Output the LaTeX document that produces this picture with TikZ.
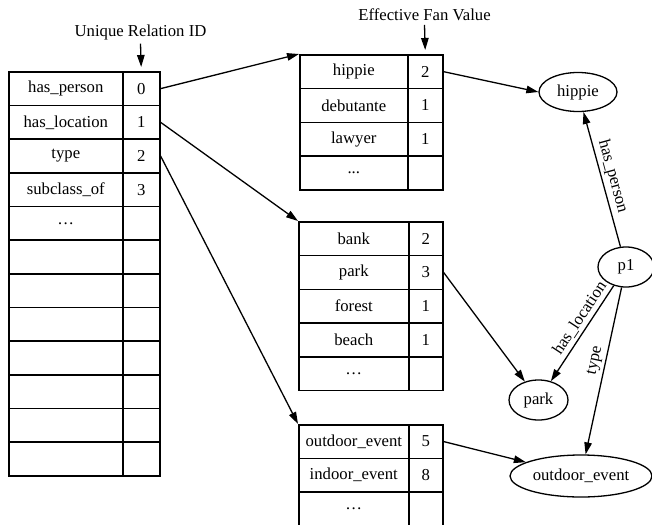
\documentclass[tikz,border=0pt]{standalone}
\usepackage{fontspec}
\setmainfont{Liberation Serif}
\usetikzlibrary{shapes.geometric,arrows.meta}
\newcommand\threedots{...}
\begin{document}
\begin{tikzpicture}[x=1pt,y=-1pt,
  font=\fontsize{16.7pt}{20pt}\selectfont,
  line width=1.3pt,
  tip/.style={-{Triangle[length=12pt,width=7.5pt]}},
  cell/.style={draw, rectangle, anchor=north west, inner sep=0pt, line width=1.6pt},
  ent/.style={draw, ellipse, inner sep=0pt, line width=1.3pt},
  elabel/.style={sloped, above, inner sep=3pt}
]
\useasboundingbox (0,0) rectangle (652,524);

% relation table
\foreach [count=\i from 0] \n/\v in {has\_person/0, has\_location/1, type/2, subclass\_of/3, \dots/{}, {}/{}, {}/{}, {}/{}, {}/{}, {}/{}, {}/{}, {}/{}} {
  \node[cell, minimum width=114pt, minimum height=33.67pt] (L\i-n) at (8, 71+\i*33.67) {\n};
  \node[cell, minimum width=37pt, minimum height=33.67pt] (L\i-v) at (122, 71+\i*33.67) {\v};
}

% has_person table
\foreach [count=\i from 0] \n/\v in {hippie/2, debutante/1, lawyer/1, \threedots/{}} {
  \node[cell, minimum width=108pt, minimum height=33.75pt] (T\i-n) at (299, 54+\i*33.75) {\n};
  \node[cell, minimum width=35pt, minimum height=33.75pt] (T\i-v) at (407, 54+\i*33.75) {\v};
}

% has_location table
\foreach [count=\i from 0] \n/\v in {bank/2, park/3, forest/1, beach/1, \dots/{}} {
  \node[cell, minimum width=110pt, minimum height=33.75pt] (M\i-n) at (298, 221+\i*33.75) {\n};
  \node[cell, minimum width=34pt, minimum height=33.75pt] (M\i-v) at (408, 221+\i*33.75) {\v};
}

% type table
\foreach [count=\i from 0] \n/\v in {outdoor\_event/5, indoor\_event/8, \dots/{}} {
  \node[cell, minimum width=110pt, minimum height=33.5pt] (B\i-n) at (298, 424+\i*33.5) {\n};
  \node[cell, minimum width=34pt, minimum height=33.5pt] (B\i-v) at (408, 424+\i*33.5) {\v};
}

% column headings
\node (uri) at (140.5,32) {Unique Relation ID};
\node (efv) at (424.5,15) {Effective Fan Value};
\draw[tip, shorten >=4pt] (uri.south) -- (L0-v.north);
\draw[tip, shorten >=4pt] (efv.south) -- (T0-v.north);

% graph entities
\node[ent, minimum width=78pt, minimum height=39pt] (hippie) at (578,92) {hippie};
\node[ent, minimum width=56pt, minimum height=40pt] (p1) at (626,267) {p1};
\node[ent, minimum width=59pt, minimum height=40pt] (park) at (538.5,400) {park};
\node[ent, minimum width=142pt, minimum height=42pt] (outdoor) at (581,476) {outdoor\_event};

% relation id -> table
\draw[tip] (L0-v.east) -- (T0-n.north west);
\draw[tip] (L1-v.east) -- (M0-n.north west);
\draw[tip] (L2-v.east) -- (B0-n.north west);

% table entry -> entity
\draw[tip] (T0-v.east) -- (hippie.west);
\draw[tip] (M1-v.east) -- (park);
\draw[tip] (B0-v.east) -- (outdoor);

% edges of p1
\draw[tip] (p1) -- node[elabel, pos=0.5] {has\_person} (hippie);
\draw[tip] (p1) -- node[elabel, pos=0.4] {has\_location} (park);
\draw[tip] (p1) -- node[elabel, pos=0.45] {type} (outdoor.78);
\end{tikzpicture}
\end{document}
